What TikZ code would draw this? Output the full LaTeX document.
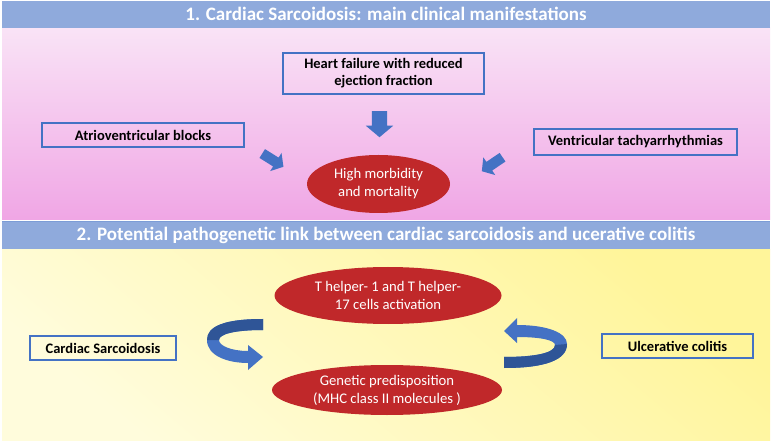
\documentclass[tikz,border=0pt]{standalone}
\usepackage{fontspec}
\setmainfont{Carlito}
\usepackage{tikz}
\usetikzlibrary{shapes.geometric,shapes.arrows}
\definecolor{hdrblue}{HTML}{8FAADC}
\definecolor{boxblue}{HTML}{4472C4}
\definecolor{darkblue}{HTML}{2F5597}
\definecolor{ellred}{HTML}{C0282A}
\definecolor{pinktop}{HTML}{F9E3F6}
\definecolor{pinkbot}{HTML}{F0A6E5}
\definecolor{yellowhi}{HTML}{FFF59A}
\definecolor{yellowlo}{HTML}{FFFCDC}

\begin{document}
\begin{tikzpicture}[x=1pt,y=-1pt,
    header/.style={text=white,font=\fontsize{19}{21}\selectfont\bfseries},
    mbox/.style={draw=boxblue,line width=1.5pt,align=center,inner sep=0pt,
      font=\fontsize{14.5}{17}\selectfont\bfseries},
    redell/.style={ellipse,fill=ellred,text=white,align=center,inner sep=0pt,
      font=\fontsize{14.7}{18}\selectfont},
    barrow/.style={single arrow,fill=boxblue,inner xsep=0pt,inner ysep=7.5pt,
      single arrow head extend=6pt,single arrow tip angle=100,minimum height=26pt},
    sarrow/.style={barrow,inner ysep=5pt,single arrow head extend=5.5pt,minimum height=25pt}]
    \useasboundingbox (0,0) rectangle (773,443);
    \fill[white] (0,0) rectangle (773,443);

    \begin{scope}
      \shade[top color=pinktop,bottom color=pinkbot] (2,28) rectangle (770,220);
      \fill[hdrblue] (2,1) rectangle (770,28);
      \node[header] (t1) at (386,14) {1. Cardiac Sarcoidosis: main clinical manifestations};
      \node[mbox,minimum width=201pt,minimum height=41pt] (hf) at (383.5,73.5)
        {Heart failure with reduced\\ejection fraction};
      \node[mbox,minimum width=202pt,minimum height=24pt] (av) at (143,135) {Atrioventricular blocks};
      \node[mbox,minimum width=203pt,minimum height=26pt] (vt) at (635.5,142) {Ventricular tachyarrhythmias};
      \node[redell,minimum width=143pt,minimum height=58pt] (hm) at (378.5,184)
        {High morbidity\\and mortality};
      \node[barrow,rotate=-90] (a1) at (379.5,121) {};
      \node[sarrow,rotate=-32] (a2) at (271,159) {};
      \node[sarrow,rotate=214] (a3) at (494,163) {};
    \end{scope}

    \begin{scope}
      \shade[top color=yellowhi,bottom color=yellowlo,shading angle=-40] (2,250) rectangle (770,440);
      \fill[hdrblue] (2,221) rectangle (770,249);
      \draw[boxblue!70,line width=0.8pt] (2,221) -- (770,221);
      \node[header] (t2) at (386,235)
        {2. Potential pathogenetic link between cardiac sarcoidosis and ucerative colitis};
      \node[redell,minimum width=227pt,minimum height=57pt] (th) at (388,295.5)
        {T helper- 1 and T helper-\\17 cells activation};
      \node[redell,minimum width=230pt,minimum height=50pt] (gp) at (387,390)
        {Genetic predisposition\\(MHC class II molecules )};
      \node[mbox,minimum width=146pt,minimum height=24pt] (cs) at (103,348) {Cardiac Sarcoidosis};
      \node[mbox,minimum width=151pt,minimum height=24pt] (uc) at (677.5,346) {Ulcerative colitis};
      % curved arrows
      \fill[boxblue] (263,319) .. controls (225,319) and (207,326) .. (207,340)
        .. controls (207,356) and (228,363) .. (248,363) -- (248,370) -- (263,357)
        -- (248,345) -- (248,351) .. controls (232,351) and (219,346) .. (219,340)
        .. controls (219,334) and (235,330) .. (263,330) -- cycle;
      \fill[darkblue] (263,319) .. controls (225,319) and (207,326) .. (207,340)
        -- (219,340) .. controls (219,334) and (235,330) .. (263,330) -- cycle;
      \fill[boxblue] (504,331) -- (517,318) -- (517,325) .. controls (548,325) and (567,333) .. (567,344)
        .. controls (567,360) and (545,368) .. (504,368) -- (504,357)
        .. controls (535,357) and (555,353) .. (555,345)
        .. controls (555,340) and (540,337) .. (517,337) -- (517,343) -- cycle;
      \fill[darkblue] (567,344) .. controls (567,360) and (545,368) .. (504,368) -- (504,357)
        .. controls (535,357) and (555,353) .. (555,345) -- cycle;
    \end{scope}
  \end{tikzpicture}
\end{document}
